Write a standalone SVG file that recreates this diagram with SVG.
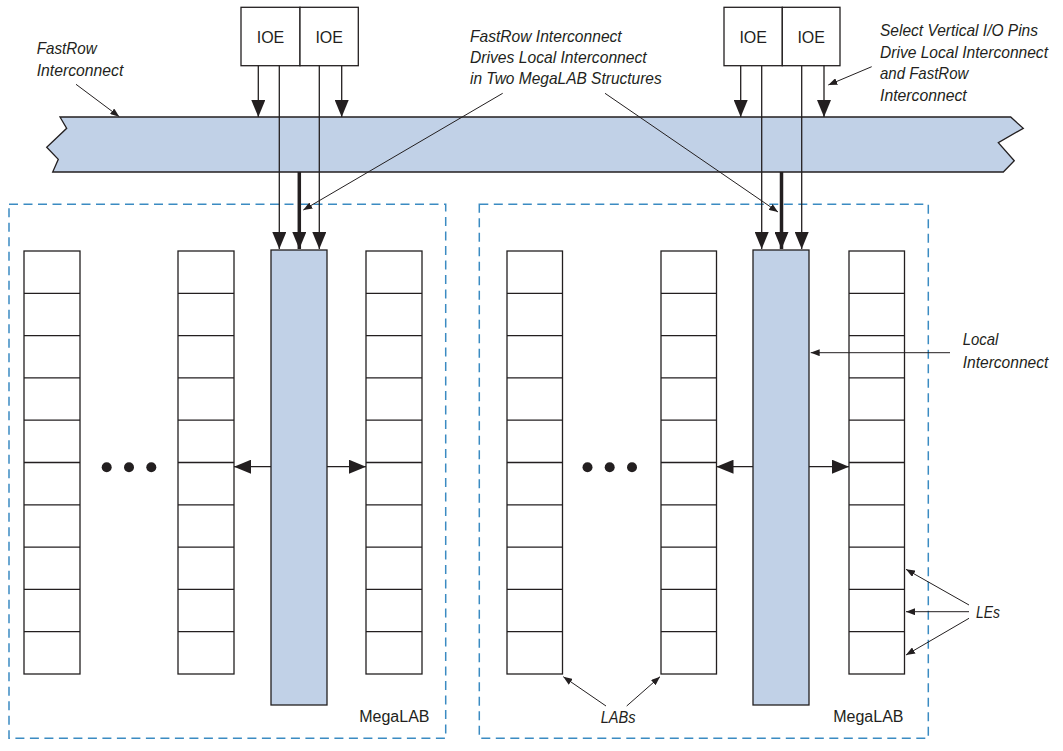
<svg xmlns="http://www.w3.org/2000/svg" width="1063" height="751" viewBox="0 0 1063 751">
<style>
.band{fill:#c1d1e7;stroke:#231f20;stroke-width:1.3}
.li{fill:#c1d1e7;stroke:#231f20;stroke-width:1.3}
.lab{fill:#fff;stroke:#231f20;stroke-width:1.3}
.row{stroke:#231f20;stroke-width:1.3}
.ioe{fill:#fff;stroke:#231f20;stroke-width:1.3}
.mega{fill:none;stroke:#3b8bc2;stroke-width:1.5;stroke-dasharray:9 5.5}
.wire{stroke:#231f20;stroke-width:1.3;fill:none}
.thick{stroke:#231f20;stroke-width:3.5;fill:none}
.ptr{stroke:#231f20;stroke-width:1;fill:none}
.lbl{font-family:"Liberation Sans",Arial,sans-serif;font-style:italic;font-size:17px;fill:#231f20}
.reg{font-family:"Liberation Sans",Arial,sans-serif;font-size:16px;fill:#231f20}
.dot{fill:#231f20}
</style>
<defs>
<marker id="big" markerUnits="userSpaceOnUse" markerWidth="17" markerHeight="14" refX="17" refY="7" orient="auto">
<path d="M0,0 L17,7 L0,14 Z" fill="#231f20"/>
</marker>
<marker id="small" markerUnits="userSpaceOnUse" markerWidth="9" markerHeight="7" refX="9" refY="3.5" orient="auto">
<path d="M0,0 L9,3.5 L0,7 Z" fill="#231f20"/>
</marker>
</defs>

<g id="fastrow">
<path class="band" d="M60,117 L1010.7,117 L1023.3,128.3 L998.3,142.7 L1014.3,160.7 L1003.3,172 L52.7,172 L58.3,159.3 L46.7,147.3 L66.7,128.3 Z"/>
</g>

<g id="megalab-left">
<rect class="mega" x="9" y="204.3" width="436.7" height="534"/>
<text class="reg" x="429.5" y="721.7" text-anchor="end">MegaLAB</text>
</g>
<g id="megalab-right">
<rect class="mega" x="479.3" y="204.3" width="449" height="534"/>
<text class="reg" x="903.5" y="721.7" text-anchor="end">MegaLAB</text>
</g>

<g id="lab-l1">
<rect class="lab" x="24" y="251" width="56" height="423"/>
<path class="row" d="M24,293.3H80M24,335.6H80M24,377.9H80M24,420.2H80M24,462.5H80M24,504.8H80M24,547.1H80M24,589.4H80M24,631.7H80"/>
</g>
<g id="lab-l2">
<rect class="lab" x="178" y="251" width="56" height="423"/>
<path class="row" d="M178,293.3H234M178,335.6H234M178,377.9H234M178,420.2H234M178,462.5H234M178,504.8H234M178,547.1H234M178,589.4H234M178,631.7H234"/>
</g>
<g id="local-l">
<rect class="li" x="271" y="250" width="56" height="455"/>
</g>
<g id="lab-l4">
<rect class="lab" x="366" y="251" width="56" height="423"/>
<path class="row" d="M366,293.3H422M366,335.6H422M366,377.9H422M366,420.2H422M366,462.5H422M366,504.8H422M366,547.1H422M366,589.4H422M366,631.7H422"/>
</g>
<g id="dots-l">
<circle class="dot" cx="106.7" cy="467.3" r="5"/>
<circle class="dot" cx="129" cy="467.3" r="5"/>
<circle class="dot" cx="151.3" cy="467.3" r="5"/>
</g>

<g id="lab-r1">
<rect class="lab" x="507" y="251" width="55.5" height="423"/>
<path class="row" d="M507,293.3H562.5M507,335.6H562.5M507,377.9H562.5M507,420.2H562.5M507,462.5H562.5M507,504.8H562.5M507,547.1H562.5M507,589.4H562.5M507,631.7H562.5"/>
</g>
<g id="lab-r2">
<rect class="lab" x="661" y="251" width="55.5" height="423"/>
<path class="row" d="M661,293.3H716.5M661,335.6H716.5M661,377.9H716.5M661,420.2H716.5M661,462.5H716.5M661,504.8H716.5M661,547.1H716.5M661,589.4H716.5M661,631.7H716.5"/>
</g>
<g id="local-r">
<rect class="li" x="753" y="250" width="56" height="455"/>
</g>
<g id="lab-r4">
<rect class="lab" x="849" y="251" width="55.5" height="423"/>
<path class="row" d="M849,293.3H904.5M849,335.6H904.5M849,377.9H904.5M849,420.2H904.5M849,462.5H904.5M849,504.8H904.5M849,547.1H904.5M849,589.4H904.5M849,631.7H904.5"/>
</g>
<g id="dots-r">
<circle class="dot" cx="587.5" cy="467.3" r="5"/>
<circle class="dot" cx="609.7" cy="467.3" r="5"/>
<circle class="dot" cx="632" cy="467.3" r="5"/>
</g>

<g id="ioe-l1"><rect class="ioe" x="241" y="7.3" width="59" height="58.4"/><text class="reg" x="270.5" y="43.3" text-anchor="middle">IOE</text></g>
<g id="ioe-l2"><rect class="ioe" x="300" y="7.3" width="58.3" height="58.4"/><text class="reg" x="329.2" y="43.3" text-anchor="middle">IOE</text></g>
<g id="ioe-r1"><rect class="ioe" x="724" y="7.3" width="58.3" height="58.4"/><text class="reg" x="753.2" y="43.3" text-anchor="middle">IOE</text></g>
<g id="ioe-r2"><rect class="ioe" x="782.3" y="7.3" width="57.7" height="58.4"/><text class="reg" x="811.2" y="43.3" text-anchor="middle">IOE</text></g>

<g id="connectors">
<line class="wire" x1="258.3" y1="65.7" x2="258.3" y2="117" marker-end="url(#big)"/>
<line class="wire" x1="341.7" y1="65.7" x2="341.7" y2="117" marker-end="url(#big)"/>
<line class="wire" x1="279.3" y1="65.7" x2="279.3" y2="249" marker-end="url(#big)"/>
<line class="wire" x1="319.3" y1="65.7" x2="319.3" y2="249" marker-end="url(#big)"/>
<line class="thick" x1="299.3" y1="172" x2="299.3" y2="249" marker-end="url(#big)"/>

<line class="wire" x1="740.7" y1="65.7" x2="740.7" y2="117" marker-end="url(#big)"/>
<line class="wire" x1="824" y1="65.7" x2="824" y2="117" marker-end="url(#big)"/>
<line class="wire" x1="761.7" y1="65.7" x2="761.7" y2="249" marker-end="url(#big)"/>
<line class="wire" x1="801.7" y1="65.7" x2="801.7" y2="249" marker-end="url(#big)"/>
<line class="thick" x1="781.5" y1="172" x2="781.5" y2="249" marker-end="url(#big)"/>

<line class="wire" x1="271" y1="466.7" x2="234" y2="466.7" marker-end="url(#big)"/>
<line class="wire" x1="327" y1="466.7" x2="366" y2="466.7" marker-end="url(#big)"/>
<line class="wire" x1="753" y1="466.7" x2="716.5" y2="466.7" marker-end="url(#big)"/>
<line class="wire" x1="809" y1="466.7" x2="849" y2="466.7" marker-end="url(#big)"/>

<line class="ptr" x1="76" y1="84.3" x2="119.3" y2="116.7" marker-end="url(#small)"/>
<line class="ptr" x1="502.7" y1="93.3" x2="303.3" y2="210" marker-end="url(#small)"/>
<line class="ptr" x1="605" y1="93.3" x2="778" y2="212" marker-end="url(#small)"/>
<line class="ptr" x1="871.7" y1="66.7" x2="828.3" y2="85" marker-end="url(#small)"/>
<line class="ptr" x1="950" y1="352.7" x2="810.7" y2="352.7" marker-end="url(#small)"/>
<line class="ptr" x1="969" y1="605" x2="906" y2="569.3" marker-end="url(#small)"/>
<line class="ptr" x1="969" y1="611.7" x2="906" y2="611.7" marker-end="url(#small)"/>
<line class="ptr" x1="969" y1="618.3" x2="906" y2="655" marker-end="url(#small)"/>
<line class="ptr" x1="606" y1="706" x2="563.3" y2="676.7" marker-end="url(#small)"/>
<line class="ptr" x1="626.7" y1="706" x2="660" y2="676.7" marker-end="url(#small)"/>
</g>

<g id="labels">
<text class="lbl" x="36.7" y="54.3" textLength="60" lengthAdjust="spacingAndGlyphs">FastRow</text>
<text class="lbl" x="36.7" y="76" textLength="86.6" lengthAdjust="spacingAndGlyphs">Interconnect</text>
<text class="lbl" x="470" y="41.7" textLength="151.7" lengthAdjust="spacingAndGlyphs">FastRow Interconnect</text>
<text class="lbl" x="470" y="63.3" textLength="176.7" lengthAdjust="spacingAndGlyphs">Drives Local Interconnect</text>
<text class="lbl" x="470" y="84.3" textLength="191.7" lengthAdjust="spacingAndGlyphs">in Two MegaLAB Structures</text>
<text class="lbl" x="880" y="36" textLength="158" lengthAdjust="spacingAndGlyphs">Select Vertical I/O Pins</text>
<text class="lbl" x="880" y="57.5" textLength="168" lengthAdjust="spacingAndGlyphs">Drive Local Interconnect</text>
<text class="lbl" x="880" y="79" textLength="88.3" lengthAdjust="spacingAndGlyphs">and FastRow</text>
<text class="lbl" x="880" y="100.5" textLength="86.7" lengthAdjust="spacingAndGlyphs">Interconnect</text>
<text class="lbl" x="962.7" y="345" textLength="35.7" lengthAdjust="spacingAndGlyphs">Local</text>
<text class="lbl" x="962.7" y="367.7" textLength="85.6" lengthAdjust="spacingAndGlyphs">Interconnect</text>
<text class="lbl" x="976" y="618.3" textLength="24" lengthAdjust="spacingAndGlyphs">LEs</text>
<text class="lbl" x="600.7" y="723.3" textLength="35" lengthAdjust="spacingAndGlyphs">LABs</text>
</g>
</svg>
